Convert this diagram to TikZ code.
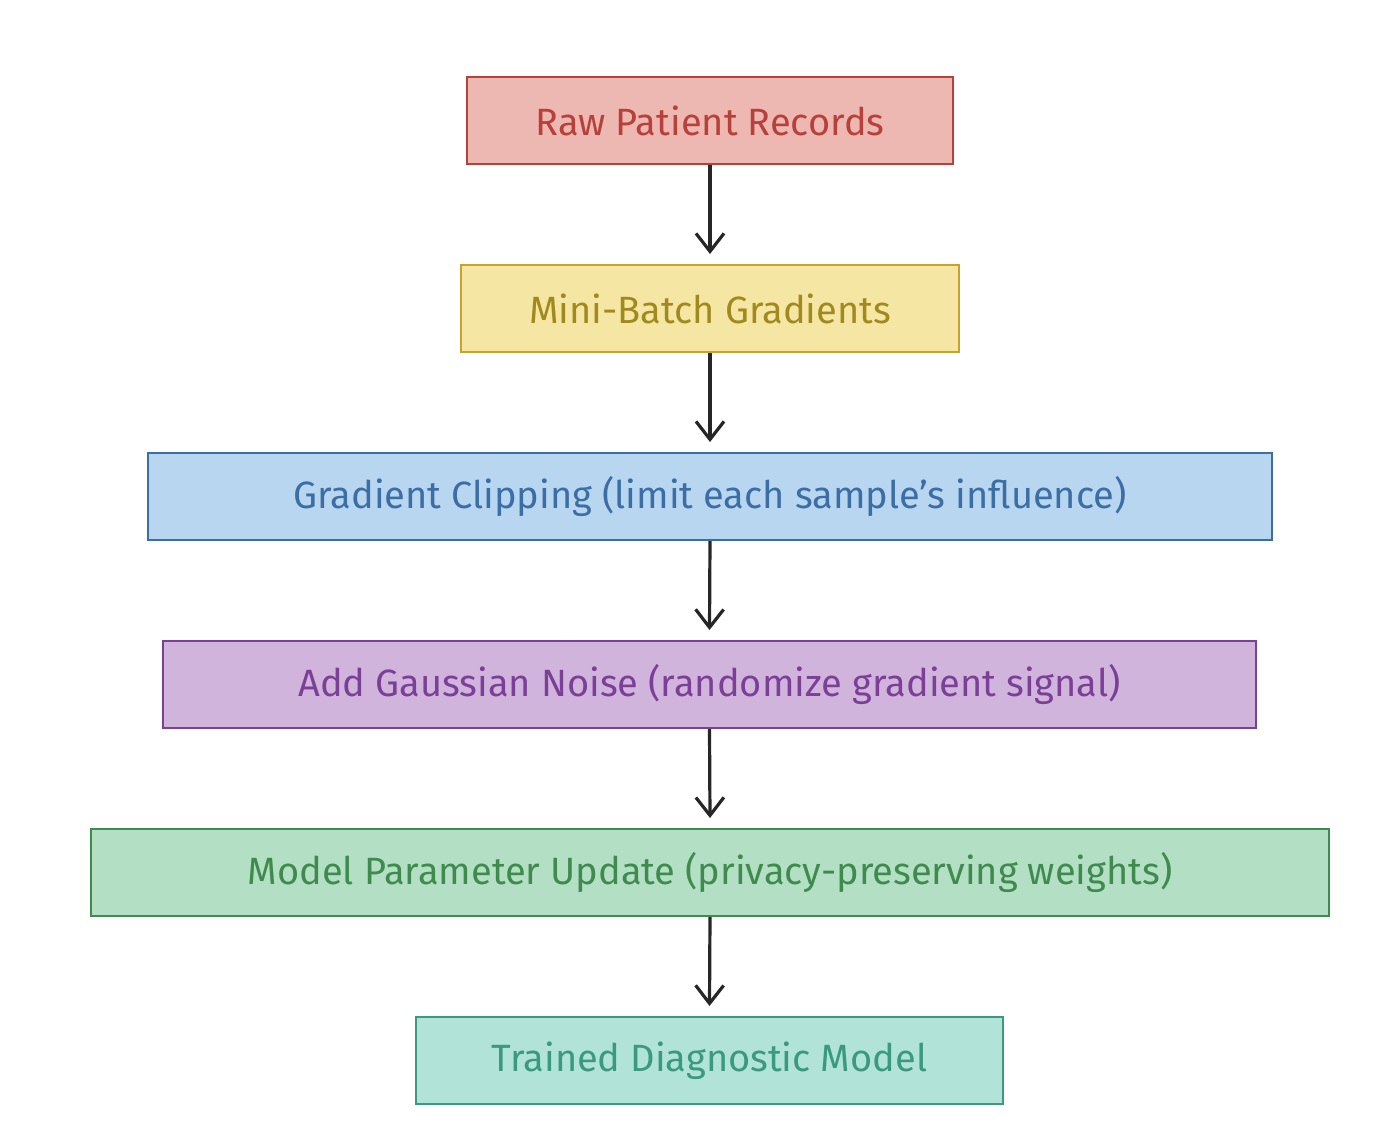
\documentclass[tikz,border=0pt]{standalone}
\usepackage{fontspec}
\setmainfont{Fira Sans}
\usetikzlibrary{arrows.meta}
\definecolor{redfill}{HTML}{EDB8B2}\definecolor{redline}{HTML}{B8403A}
\definecolor{yelfill}{HTML}{F5E6A3}\definecolor{yelline}{HTML}{C9A227}\definecolor{yeltext}{HTML}{A08A1E}
\definecolor{blufill}{HTML}{B8D6F0}\definecolor{bluline}{HTML}{3A6EA5}
\definecolor{purfill}{HTML}{D0B4DC}\definecolor{purline}{HTML}{7B3F98}
\definecolor{grnfill}{HTML}{B3DFC4}\definecolor{grnline}{HTML}{3F8B4E}
\definecolor{tealfill}{HTML}{B2E3D8}\definecolor{tealline}{HTML}{3A9A7F}
\tikzset{
  stage/.style={draw, line width=1pt, minimum height=43.5pt, inner sep=0pt,
    font=\fontsize{19}{22}\selectfont},
  flow/.style={-{Straight Barb[length=9pt,width=14pt]}, line width=1.6pt, draw=black!85},
}
\begin{document}
\begin{tikzpicture}[x=0.5pt,y=-0.5pt]
\useasboundingbox (0,0) rectangle (1394,1142);
\node[stage, fill=redfill, draw=redline, text=redline, minimum width=243pt] (raw) at (710,120.5) {Raw Patient Records};
\node[stage, fill=yelfill, draw=yelline, text=yeltext, minimum width=249pt] (batch) at (710,308.5) {Mini-Batch Gradients};
\node[stage, fill=blufill, draw=bluline, text=bluline, minimum width=562pt] (clip) at (710,496.5) {Gradient Clipping (limit each sample's influence)};
\node[stage, fill=purfill, draw=purline, text=purline, minimum width=546.5pt] (noise) at (709.5,684.5) {Add Gaussian Noise (randomize gradient signal)};
\node[stage, fill=grnfill, draw=grnline, text=grnline, minimum width=619pt] (update) at (710,872.5) {Model Parameter Update (privacy-preserving weights)};
\node[stage, fill=tealfill, draw=tealline, text=tealline, minimum width=293.5pt] (model) at (709.5,1060.5) {Trained Diagnostic Model};

\draw[flow] (raw.south) -- ([yshift=5pt]batch.north);
\draw[flow] (batch.south) -- ([yshift=5pt]clip.north);
\draw[flow] (clip.south) -- ([yshift=5pt]noise.north);
\draw[flow] (noise.south) -- ([yshift=5pt]update.north);
\draw[flow] (update.south) -- ([yshift=5pt]model.north);
\end{tikzpicture}
\end{document}
